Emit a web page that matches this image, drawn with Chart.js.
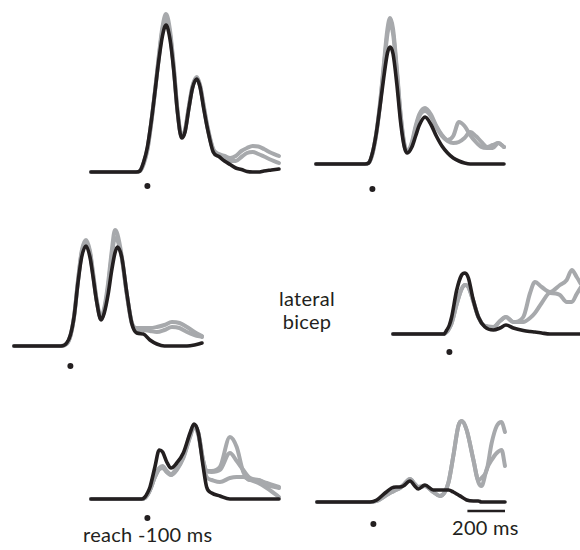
<!DOCTYPE html>
<html lang="en">
<head>
<meta charset="UTF-8">
<title>lateral bicep</title>
<script src="https://cdn.jsdelivr.net/npm/chart.js@4"></script>
<style>
  html, body { margin: 0; padding: 0; background: #fff; }
  body { width: 580px; height: 550px; position: relative; overflow: hidden;
         font-family: "Lato", sans-serif; color: #231f20; }
  canvas { position: absolute; }
  .label { position: absolute; font-size: 20px; letter-spacing: 0.3px;
           line-height: 23px; white-space: nowrap; }
</style>
</head>
<body>
<div class="label" style="left:307px; top:287px; transform:translateX(-50%); text-align:center">lateral<br>bicep</div>
<div class="label" style="left:83px; top:523px">reach -100 ms</div>
<div class="label" style="left:452px; top:516px">200 ms</div>

<script>
// time in ms, EMG amplitude in a.u. (baseline = 0)
const reachTime = -100;
const scaleBarMs = [400, 600];

const p1Time   = [-400, -160, -140, -120, -100, -80, -60, -40, -20, -1, 20, 40, 60, 82, 100, 120, 140, 162, 180, 200, 220, 250, 280, 310, 340, 370, 400, 430, 460, 490, 520, 560, 600];
const p1Black  = [0, 0, 0.01, 0.10, 0.25, 0.50, 0.80, 1.11, 1.36, 1.47, 1.33, 1.02, 0.60, 0.34, 0.40, 0.63, 0.84, 0.93, 0.85, 0.63, 0.43, 0.20, 0.155, 0.11, 0.075, 0.04, 0.025, 0.005, 0, 0, 0.01, 0.02, 0.03];
const p1GreyA  = [0, 0, 0.01, 0.08, 0.22, 0.48, 0.80, 1.15, 1.45, 1.58, 1.42, 1.06, 0.62, 0.36, 0.42, 0.65, 0.86, 0.95, 0.87, 0.66, 0.45, 0.23, 0.18, 0.16, 0.14, 0.16, 0.21, 0.24, 0.26, 0.255, 0.23, 0.19, 0.16];
const p1GreyB  = [0, 0, 0.01, 0.09, 0.23, 0.49, 0.80, 1.13, 1.42, 1.53, 1.38, 1.04, 0.61, 0.35, 0.41, 0.64, 0.85, 0.94, 0.86, 0.65, 0.44, 0.22, 0.17, 0.14, 0.11, 0.11, 0.15, 0.19, 0.20, 0.18, 0.155, 0.12, 0.09];

const p2Time   = [-400, -140, -120, -100, -80, -60, -40, -20, -6, 10, 30, 50, 70, 86, 110, 130, 150, 180, 210, 240, 270, 300, 330, 360, 390, 420, 450, 480, 510, 540, 570, 600];
const p2Black  = [0, 0, 0.01, 0.11, 0.30, 0.57, 0.86, 1.11, 1.17, 1.10, 0.80, 0.42, 0.17, 0.11, 0.17, 0.28, 0.39, 0.47, 0.40, 0.28, 0.18, 0.11, 0.06, 0.03, 0.01, 0, 0, 0, 0, 0, 0, 0];
const p2GreyA  = [0, 0, 0.01, 0.10, 0.30, 0.60, 0.98, 1.35, 1.46, 1.35, 0.95, 0.50, 0.20, 0.13, 0.22, 0.38, 0.50, 0.56, 0.50, 0.38, 0.29, 0.24, 0.28, 0.42, 0.38, 0.29, 0.22, 0.17, 0.16, 0.16, 0.21, 0.17];
const p2GreyB  = [0, 0, 0.01, 0.10, 0.29, 0.58, 0.95, 1.30, 1.40, 1.30, 0.92, 0.48, 0.19, 0.12, 0.20, 0.36, 0.48, 0.53, 0.48, 0.37, 0.28, 0.23, 0.21, 0.22, 0.26, 0.32, 0.28, 0.22, 0.17, 0.19, 0.21, 0.17];

const p3Time   = [-400, -150, -120, -100, -80, -60, -40, -17, 4, 20, 40, 63, 80, 100, 120, 137, 150, 173, 200, 226, 253, 288, 323, 360, 400, 440, 480, 520, 560, 600];
const p3Black  = [0, 0, 0.03, 0.11, 0.30, 0.63, 0.89, 1.00, 0.89, 0.70, 0.44, 0.26, 0.33, 0.51, 0.76, 0.93, 0.99, 0.89, 0.53, 0.23, 0.13, 0.12, 0.06, 0.02, 0, 0, 0, 0, 0.01, 0.03];
const p3GreyA  = [0, 0, 0.02, 0.10, 0.30, 0.65, 0.95, 1.06, 0.95, 0.74, 0.46, 0.28, 0.38, 0.62, 0.95, 1.16, 1.12, 0.90, 0.52, 0.24, 0.18, 0.18, 0.18, 0.19, 0.21, 0.24, 0.23, 0.19, 0.14, 0.10];
const p3GreyB  = [0, 0, 0.02, 0.10, 0.30, 0.64, 0.93, 1.03, 0.93, 0.72, 0.45, 0.27, 0.36, 0.58, 0.90, 1.08, 1.06, 0.88, 0.52, 0.23, 0.16, 0.16, 0.15, 0.14, 0.16, 0.19, 0.18, 0.14, 0.11, 0.09];

const p4Time   = [-400, -130, -114, -100, -88, -61, -35, -17, 1, 27, 54, 89, 134, 169, 201, 240, 293, 329, 355, 391, 435, 488, 524, 551, 577, 600];
const p4Black  = [0, 0, 0.04, 0.09, 0.17, 0.44, 0.59, 0.61, 0.56, 0.34, 0.17, 0.07, 0.04, 0.06, 0.09, 0.06, 0.035, 0.025, 0.02, 0.01, 0, 0, 0, 0, 0, 0];
const p4GreyA  = [0, 0, 0.02, 0.06, 0.11, 0.30, 0.45, 0.49, 0.47, 0.33, 0.17, 0.08, 0.07, 0.13, 0.17, 0.12, 0.17, 0.41, 0.52, 0.47, 0.42, 0.49, 0.54, 0.64, 0.57, 0.50];
const p4GreyB  = [0, 0, 0.02, 0.06, 0.11, 0.30, 0.45, 0.49, 0.47, 0.33, 0.17, 0.08, 0.07, 0.13, 0.17, 0.12, 0.12, 0.16, 0.21, 0.31, 0.41, 0.39, 0.32, 0.32, 0.40, 0.47];

const p5Time   = [-400, -130, -113, -100, -86, -60, -37, -19, 3, 26, 56, 91, 127, 148, 171, 197, 215, 242, 286, 339, 375, 410, 446, 490, 535, 600];
const p5Black  = [0, 0, 0.02, 0.06, 0.12, 0.32, 0.49, 0.47, 0.37, 0.31, 0.36, 0.46, 0.66, 0.75, 0.66, 0.32, 0.12, 0.06, 0.03, 0, 0, 0, 0, 0, 0, 0];
const p5GreyA  = [0, 0, 0.01, 0.04, 0.09, 0.22, 0.30, 0.32, 0.27, 0.24, 0.30, 0.42, 0.63, 0.74, 0.66, 0.38, 0.28, 0.28, 0.32, 0.62, 0.52, 0.27, 0.19, 0.19, 0.14, 0.11];
const p5GreyB  = [0, 0, 0.01, 0.04, 0.09, 0.23, 0.31, 0.33, 0.28, 0.25, 0.31, 0.43, 0.64, 0.74, 0.66, 0.38, 0.28, 0.27, 0.29, 0.46, 0.38, 0.29, 0.21, 0.19, 0.16, 0.12];
const p5GreyC  = [0, 0, 0.01, 0.04, 0.09, 0.22, 0.30, 0.31, 0.27, 0.24, 0.29, 0.41, 0.62, 0.72, 0.64, 0.36, 0.22, 0.19, 0.17, 0.21, 0.22, 0.22, 0.19, 0.16, 0.11, 0.02];

const p6Time   = [-400, -118, -82, -38, -3, 20, 41, 59, 95, 120, 139, 174, 219, 254, 280, 300, 325, 352, 370, 396, 432, 458, 475, 503, 529, 556, 582, 600];
const p6Black  = [0, 0, 0.02, 0.09, 0.14, 0.15, 0.15, 0.16, 0.21, 0.16, 0.13, 0.17, 0.12, 0.12, 0.12, 0.12, 0.10, 0.07, 0.05, 0.02, 0.01, 0.01, 0, 0, 0, 0, 0, 0];
const p6GreyA  = [0, 0, 0.01, 0.06, 0.10, 0.12, 0.14, 0.17, 0.23, 0.18, 0.15, 0.16, 0.10, 0.06, 0.10, 0.20, 0.46, 0.76, 0.81, 0.72, 0.42, 0.22, 0.24, 0.32, 0.59, 0.76, 0.80, 0.70];
const p6GreyB  = [0, 0, 0.01, 0.06, 0.10, 0.12, 0.14, 0.17, 0.23, 0.18, 0.15, 0.16, 0.10, 0.06, 0.10, 0.20, 0.46, 0.76, 0.81, 0.72, 0.42, 0.20, 0.16, 0.33, 0.42, 0.49, 0.52, 0.36];

// page layout: left edge of the time axis and baseline y, in px; dot = px below baseline
const BLACK = '#231f20';
const GREY = '#a7a9ac';
const PAD = 6;
const PLOT_W = 188;          // -400..600 ms
const PX_PER_UNIT = 100;
const Y_MIN = -0.3, Y_MAX = 1.7;

const panels = [
  { time: p1Time, black: p1Black, greys: [p1GreyA, p1GreyB], left: 91, base: 172, dot: 14 },
  { time: p2Time, black: p2Black, greys: [p2GreyA, p2GreyB], left: 316, base: 164, dot: 25 },
  { time: p3Time, black: p3Black, greys: [p3GreyA, p3GreyB], left: 14, base: 346, dot: 20 },
  { time: p4Time, black: p4Black, greys: [p4GreyA, p4GreyB], left: 393, base: 334, dot: 18 },
  { time: p5Time, black: p5Black, greys: [p5GreyA, p5GreyB, p5GreyC], left: 91, base: 499, dot: 19 },
  { time: p6Time, black: p6Black, greys: [p6GreyA, p6GreyB], left: 317, base: 502, dot: 22, scaleBar: 9 }
];

function pts(time, vals) {
  return time.map((t, i) => ({ x: t, y: vals[i] }));
}

function trace(data, color, width, order) {
  return {
    data: data, borderColor: color, borderWidth: width, pointRadius: 0,
    cubicInterpolationMode: 'monotone', tension: 0.4, fill: false,
    borderCapStyle: 'round', borderJoinStyle: 'round', clip: false, order: order
  };
}

panels.forEach(p => {
  const canvas = document.createElement('canvas');
  canvas.width = PLOT_W + 2 * PAD;
  canvas.height = (Y_MAX - Y_MIN) * PX_PER_UNIT + 2 * PAD;
  canvas.style.left = (p.left - PAD) + 'px';
  canvas.style.top = (p.base - Y_MAX * PX_PER_UNIT - PAD) + 'px';
  document.body.appendChild(canvas);

  const datasets = [];
  datasets.push(trace(pts(p.time, p.black), BLACK, 3.6, 0));
  p.greys.forEach(g => datasets.push(trace(pts(p.time, g), GREY, 4, 2)));
  datasets.push({
    data: [{ x: reachTime, y: -p.dot / PX_PER_UNIT }], showLine: false,
    pointRadius: 3, pointBackgroundColor: BLACK, pointBorderWidth: 0, clip: false, order: 1
  });
  if (p.scaleBar) {
    datasets.push({
      data: scaleBarMs.map(t => ({ x: t, y: -p.scaleBar / PX_PER_UNIT })),
      borderColor: BLACK, borderWidth: 2.4, pointRadius: 0, tension: 0,
      borderCapStyle: 'butt', clip: false, order: 1
    });
  }

  new Chart(canvas, {
    type: 'line',
    data: { datasets: datasets },
    options: {
      responsive: false,
      animation: false,
      events: [],
      layout: { padding: PAD },
      plugins: { legend: { display: false }, tooltip: { enabled: false } },
      scales: {
        x: { type: 'linear', min: -400, max: 600, display: false },
        y: { min: Y_MIN, max: Y_MAX, display: false }
      }
    }
  });
});
</script>
</body>
</html>
